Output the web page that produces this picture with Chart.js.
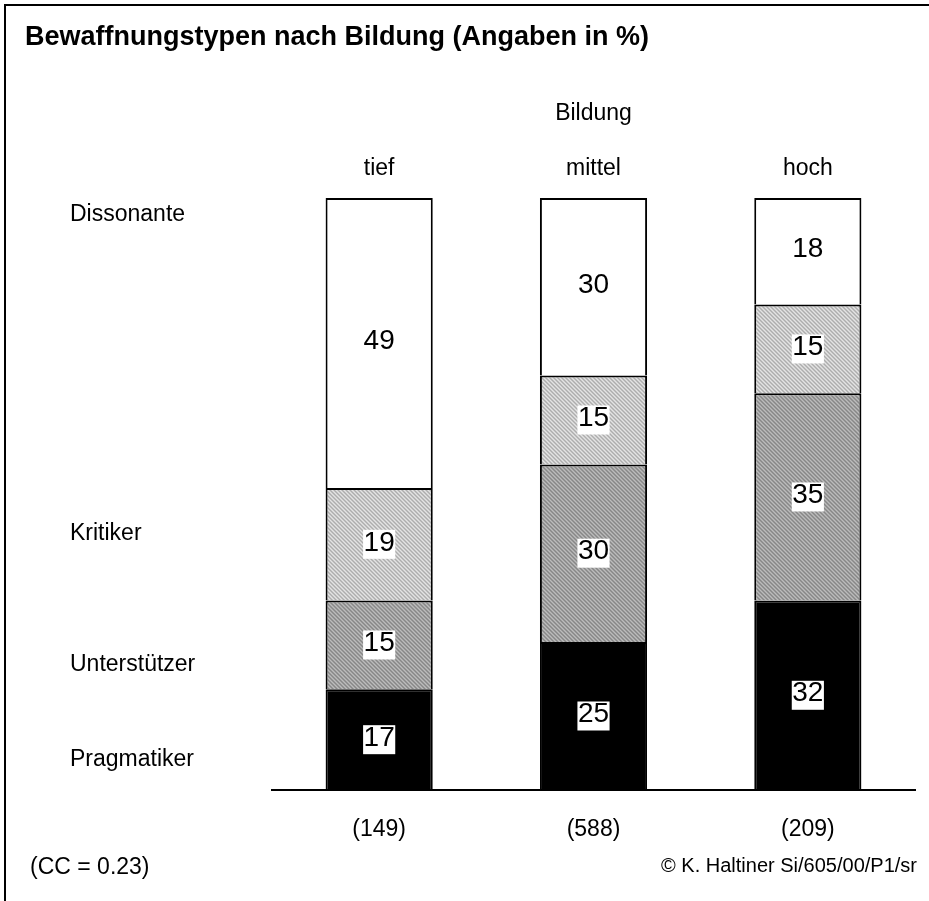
<!DOCTYPE html>
<html><head><meta charset="utf-8">
<script src="https://cdn.jsdelivr.net/npm/chart.js@4.4.1/dist/chart.umd.min.js"></script>
<style>html,body{margin:0;padding:0;background:#fff}#wrap{width:929px;height:901px}</style>
</head><body><div id="wrap"><canvas id="c" width="929" height="901"></canvas></div>
<script>
const categories = ['tief', 'mittel', 'hoch'];
const groupSizes = ['(149)', '(588)', '(209)'];
const seriesNames = ['Pragmatiker', 'Unterstützer', 'Kritiker', 'Dissonante'];
const pragmatiker = [17, 25, 32];
const unterstuetzer = [15, 30, 35];
const kritiker = [19, 15, 15];
const dissonante = [49, 30, 18];
const titleText = 'Bewaffnungstypen nach Bildung (Angaben in %)';
const axisTitle = 'Bildung';
const noteText = '(CC = 0.23)';
const sourceText = '© K. Haltiner Si/605/00/P1/sr';

const FAM = "'Liberation Sans', Arial, Helvetica, sans-serif";
const ctx = document.getElementById('c').getContext('2d');

function makePattern(base, dark, light) {
  const c = document.createElement('canvas');
  c.width = 4; c.height = 4;
  const g = c.getContext('2d');
  g.fillStyle = base; g.fillRect(0, 0, 4, 4);
  g.fillStyle = dark;
  [[0,0],[1,1],[2,2],[3,3]].forEach(p => g.fillRect(p[0], p[1], 1, 1));
  g.fillStyle = light;
  [[2,0],[3,1],[0,2],[1,3]].forEach(p => g.fillRect(p[0], p[1], 1, 1));
  return ctx.createPattern(c, 'repeat');
}
const lightPat = makePattern('#c8c8c8', '#adadad', '#e4e4e4');
const darkPat = makePattern('#a0a0a0', '#878787', '#bcbcbc');

const seriesValues = [pragmatiker, unterstuetzer, kritiker, dissonante];
const seriesFills = ['#000000', darkPat, lightPat, '#ffffff'];
const labelY = [760, 665, 534, 215];

const bw = {left: 2, right: 2, top: 2, bottom: 0};
const datasets = seriesNames.map((name, i) => ({
  label: name,
  data: seriesValues[i],
  backgroundColor: seriesFills[i],
  borderColor: '#000',
  borderWidth: bw,
  borderSkipped: false,
  barPercentage: 0.5,
  categoryPercentage: 1.0,
  xAxisID: 'x', yAxisID: 'y'
}));

const decor = {
  id: 'decor',
  afterDatasetsDraw(chart) {
    const c = chart.ctx;
    c.save();
    c.font = '28px ' + FAM;
    c.textAlign = 'center';
    c.textBaseline = 'middle';
    chart.data.datasets.forEach((ds, di) => {
      const meta = chart.getDatasetMeta(di);
      meta.data.forEach((el, i) => {
        const txt = String(ds.data[i]);
        const cy = (el.y + el.base) / 2;
        const w = c.measureText(txt).width + 1;
        c.fillStyle = '#fff';
        c.fillRect(el.x - w / 2, cy - 14.5, w, 29);
        c.fillStyle = '#000';
        c.fillText(txt, el.x, cy - 1.5);
      });
    });
    c.restore();
  },
  afterDraw(chart) {
    const c = chart.ctx;
    c.save();
    c.strokeStyle = '#000';
    c.lineWidth = 2;
    c.beginPath();
    c.moveTo(4, 5); c.lineTo(929, 5);
    c.moveTo(5, 4); c.lineTo(5, 901);
    c.stroke();
    c.fillStyle = '#000';
    c.font = 'bold 27px ' + FAM;
    c.textAlign = 'left';
    c.textBaseline = 'alphabetic';
    c.fillText(titleText, 25, 45);
    c.font = '23px ' + FAM;
    c.textBaseline = 'middle';
    seriesNames.forEach((n, i) => c.fillText(n, 70, labelY[i]));
    c.fillText(noteText, 30, 868);
    c.font = '20px ' + FAM;
    c.textAlign = 'right';
    c.fillText(sourceText, 917, 866);
    c.restore();
  }
};

new Chart(ctx, {
  type: 'bar',
  data: { labels: categories, datasets },
  options: {
    responsive: false,
    devicePixelRatio: 1,
    animation: false,
    layout: { padding: { left: 272, right: 14, top: 0, bottom: 0 } },
    plugins: { legend: { display: false }, tooltip: { enabled: false }, title: { display: false } },
    scales: {
      x: {
        type: 'category', position: 'bottom', stacked: true, offset: true,
        grid: { display: false, drawTicks: false },
        border: { display: true, color: '#000', width: 2 },
        ticks: { color: '#000', font: { family: FAM, size: 23 }, padding: 26,
                 callback: (v, i) => groupSizes[i] },
        afterFit: s => { s.height = 111; }
      },
      x2: {
        type: 'category', labels: categories, position: 'top', offset: true,
        grid: { display: false, drawTicks: false },
        border: { display: false },
        ticks: { color: '#000', font: { family: FAM, size: 23 }, padding: 16 },
        title: { display: true, text: axisTitle, color: '#000', font: { family: FAM, size: 23 },
                 padding: { top: 100, bottom: 0 } },
        afterFit: s => { s.height = 198; }
      },
      y: { stacked: true, min: 0, max: 100, display: false }
    }
  },
  plugins: [decor]
});
</script></body></html>
